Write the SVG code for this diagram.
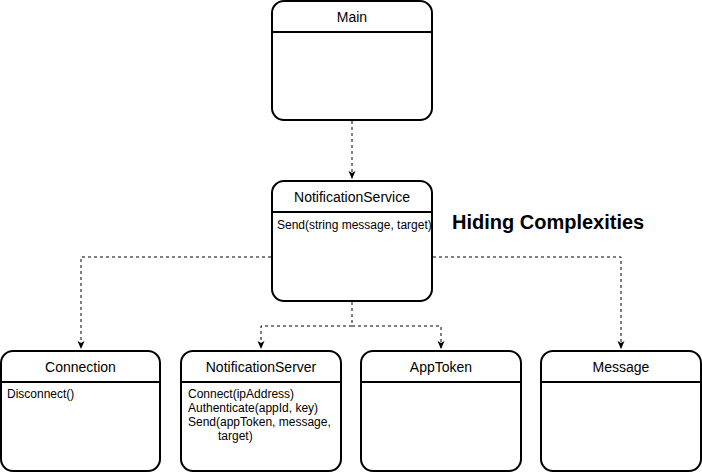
<svg xmlns="http://www.w3.org/2000/svg" width="702" height="474" viewBox="0 0 702 474">
<style>
.box{fill:#fff;stroke:#000;stroke-width:2}
.sep{stroke:#000;stroke-width:2}
.title{font-family:"Liberation Sans",Arial,sans-serif;font-size:14px;fill:#000;text-anchor:middle}
.body{font-family:"Liberation Sans",Arial,sans-serif;font-size:12px;fill:#000}
.con{fill:none;stroke:#000;stroke-width:1;stroke-dasharray:3 3}
.head{font-family:"Liberation Sans",Arial,sans-serif;font-size:20px;font-weight:bold;fill:#000}
</style>
<defs>
<marker id="arr" viewBox="0 0 8 8" refX="8" refY="4" markerWidth="8" markerHeight="8" markerUnits="userSpaceOnUse" orient="auto">
<path d="M0,0.5 L8,4 L0,7.5 L2,4 Z" fill="#000"/>
</marker>
</defs>
<rect width="702" height="474" fill="#fff"/>
<g id="connectors">
<path class="con" d="M352 121 V179" marker-end="url(#arr)"/>
<path class="con" d="M271 257 H81 V349" marker-end="url(#arr)"/>
<path class="con" d="M433 257 H621 V349" marker-end="url(#arr)"/>
<path class="con" d="M352 302 V326 H261 V349" marker-end="url(#arr)"/>
<path class="con" d="M352 326 H441 V349" marker-end="url(#arr)"/>
</g>
<g id="main">
<rect class="box" x="272" y="1" width="160" height="119" rx="12"/>
<line class="sep" x1="272" y1="32" x2="432" y2="32"/>
<text class="title" x="352" y="22">Main</text>
</g>
<g id="notificationService">
<rect class="box" x="272" y="181" width="160" height="120" rx="12"/>
<line class="sep" x1="272" y1="212" x2="432" y2="212"/>
<text class="title" x="352" y="202">NotificationService</text>
<text class="body" x="277" y="229">Send(string message, target)</text>
</g>
<g id="connection">
<rect class="box" x="1" y="351" width="159" height="120" rx="12"/>
<line class="sep" x1="1" y1="382" x2="160" y2="382"/>
<text class="title" x="80.5" y="372">Connection</text>
<text class="body" x="7" y="398">Disconnect()</text>
</g>
<g id="notificationServer">
<rect class="box" x="181" y="351" width="160" height="120" rx="12"/>
<line class="sep" x1="181" y1="382" x2="341" y2="382"/>
<text class="title" x="261" y="372">NotificationServer</text>
<text class="body" x="188" y="398">Connect(ipAddress)</text>
<text class="body" x="188" y="412">Authenticate(appId, key)</text>
<text class="body" x="188" y="426">Send(appToken, message,</text>
<text class="body" x="218" y="440">target)</text>
</g>
<g id="appToken">
<rect class="box" x="361" y="351" width="160" height="120" rx="12"/>
<line class="sep" x1="361" y1="382" x2="521" y2="382"/>
<text class="title" x="441" y="372">AppToken</text>
</g>
<g id="message">
<rect class="box" x="541" y="351" width="160" height="120" rx="12"/>
<line class="sep" x1="541" y1="382" x2="701" y2="382"/>
<text class="title" x="621" y="372">Message</text>
</g>
<text class="head" x="452" y="229">Hiding Complexities</text>
</svg>
